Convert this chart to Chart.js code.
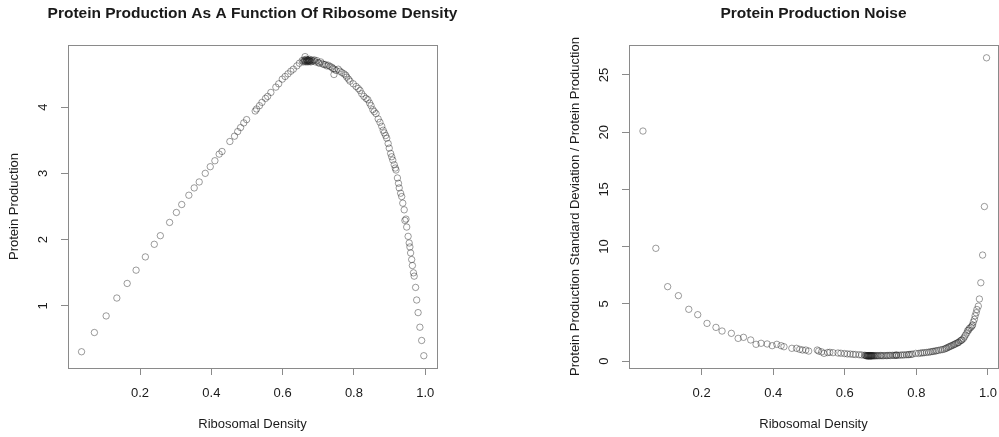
<!DOCTYPE html>
<html>
<head>
<meta charset="utf-8">
<script src="https://cdn.jsdelivr.net/npm/chart.js@4.4.1/dist/chart.umd.min.js"></script>
<style>
  html, body { margin: 0; padding: 0; background: #fff; }
  #wrap { position: relative; width: 999px; height: 437px; overflow: hidden; }
  canvas { position: absolute; top: 0; }
  #left { left: 0; }
  #right { left: 561px; }
</style>
</head>
<body>
<div id="wrap">
  <canvas id="left" width="561" height="437"></canvas>
  <canvas id="right" width="561" height="437"></canvas>
</div>
<script>
// --- data (ribosomal density sweep) ---
const density = [
  0.036,0.072,0.105,0.135,0.164,0.189,0.215,0.240,0.257,0.283,
  0.302,0.317,0.337,0.352,0.366,0.383,0.397,0.410,0.422,0.430,
  0.452,0.465,0.474,0.482,0.491,0.499,0.523,0.527,0.535,0.542,
  0.552,0.558,0.567,0.581,0.589,0.599,0.607,0.615,0.623,0.630,
  0.640,0.647,0.655,
  0.658,0.660,0.661,0.663,0.664,0.665,0.666,0.667,0.668,0.669,
  0.670,0.671,0.672,0.673,0.674,0.675,0.676,0.677,0.679,0.681,
  0.683,0.686,0.689,
  0.692,0.696,0.700,0.703,0.707,0.712,0.716,0.720,0.724,0.728,
  0.733,0.738,0.741,0.744,0.745,0.750,0.756,0.761,0.766,0.772,
  0.777,0.780,0.785,0.789,0.798,0.806,0.812,0.817,0.822,0.828,
  0.834,0.839,0.844,0.848,0.853,0.857,0.862,0.868,0.873,0.878,
  0.882,0.885,0.889,0.892,0.896,0.899,0.903,0.906,0.909,0.913,
  0.916,0.918,0.922,0.925,0.927,0.931,0.934,0.937,0.941,0.943,
  0.946,0.948,0.952,0.955,0.957,0.959,0.962,0.964,0.967,0.969,
  0.973,0.976,0.980,0.985,0.990,0.996
];

const production = [
  0.31,0.60,0.85,1.12,1.34,1.54,1.74,1.93,2.06,2.26,
  2.41,2.53,2.67,2.78,2.87,3.00,3.10,3.19,3.29,3.33,
  3.48,3.56,3.63,3.69,3.76,3.81,3.94,3.97,4.02,4.07,
  4.13,4.16,4.22,4.30,4.35,4.42,4.46,4.50,4.54,4.57,
  4.62,4.66,4.70,
  4.68,4.71,4.69,4.76,4.70,4.68,4.72,4.70,4.69,4.71,
  4.70,4.68,4.71,4.69,4.70,4.72,4.69,4.70,4.68,4.71,
  4.69,4.70,4.71,
  4.68,4.70,4.67,4.66,4.68,4.65,4.64,4.64,4.62,4.63,
  4.61,4.60,4.58,4.49,4.57,4.55,4.57,4.54,4.52,4.50,
  4.48,4.45,4.42,4.39,4.35,4.31,4.28,4.25,4.20,4.16,
  4.13,4.11,4.06,4.02,3.96,3.93,3.90,3.82,3.77,3.71,
  3.65,3.61,3.57,3.53,3.45,3.38,3.30,3.25,3.20,3.13,
  3.08,3.05,2.93,2.85,2.78,2.70,2.65,2.55,2.45,2.29,
  2.31,2.19,2.05,1.95,1.89,1.80,1.70,1.61,1.50,1.45,
  1.28,1.09,0.90,0.68,0.48,0.25
];

// std dev / mean of production
const noise = [
  20.1,9.85,6.50,5.71,4.52,4.05,3.29,2.94,2.62,2.42,
  1.98,2.07,1.84,1.46,1.55,1.49,1.34,1.46,1.34,1.25,
  1.11,1.11,1.02,0.96,0.96,0.87,0.96,0.87,0.80,0.67,
  0.74,0.76,0.73,0.70,0.68,0.65,0.62,0.61,0.58,0.57,
  0.55,0.53,0.50,
  0.48,0.47,0.46,0.45,0.46,0.47,0.45,0.46,0.47,0.46,
  0.45,0.47,0.46,0.46,0.45,0.46,0.47,0.46,0.47,0.46,
  0.45,0.47,0.46,
  0.47,0.46,0.48,0.47,0.46,0.48,0.47,0.48,0.49,0.48,
  0.50,0.49,0.50,0.52,0.51,0.50,0.52,0.53,0.53,0.55,
  0.55,0.57,0.58,0.60,0.67,0.66,0.70,0.71,0.73,0.75,
  0.77,0.80,0.83,0.85,0.87,0.91,0.93,0.98,1.00,1.04,
  1.10,1.14,1.20,1.25,1.30,1.35,1.40,1.45,1.50,1.56,
  1.60,1.63,1.75,1.80,1.84,1.95,2.10,2.27,2.45,2.65,
  2.70,2.85,2.94,3.05,3.15,3.40,3.64,3.95,4.22,4.50,
  4.80,5.42,6.84,9.26,13.5,26.5
];

const xTicks = [0.2, 0.4, 0.6, 0.8, 1.0];
const prodTicks = [1, 2, 3, 4];
const noiseTicks = [0, 5, 10, 15, 20, 25];

// --- look (R base graphics) ---
const FONT = '"Liberation Sans", Arial, Helvetica, sans-serif';
const frameColor = '#8a8a8a';
const textColor = '#1a1a1a';
const pointColor = 'rgba(30,30,30,0.55)';

// frame box, main title, and R-style rotated y tick labels
const rFrame = {
  id: 'rFrame',
  afterDraw(chart, args, opts) {
    const { ctx, chartArea: a, scales } = chart;
    ctx.save();
    ctx.strokeStyle = frameColor;
    ctx.lineWidth = 1;
    ctx.strokeRect(Math.round(a.left) + 0.5, Math.round(a.top) + 0.5,
                   Math.round(a.right - a.left), Math.round(a.bottom - a.top));

    ctx.fillStyle = textColor;
    ctx.textAlign = 'center';
    ctx.textBaseline = 'middle';
    ctx.font = 'bold 15.5px ' + FONT;
    ctx.fillText(opts.title, (a.left + a.right) / 2, 14);

    ctx.font = '13px ' + FONT;
    scales.y.ticks.forEach(t => {
      const y = scales.y.getPixelForValue(t.value);
      ctx.save();
      ctx.translate(43, y);
      ctx.rotate(-Math.PI / 2);
      ctx.fillText(String(t.value), 0, 0);
      ctx.restore();
    });
    ctx.restore();
  }
};

function makePanel(canvasId, title, yValues, yLabel, yTicks, xRange, yRange) {
  const pts = density.map((d, i) => ({ x: d, y: yValues[i] }));
  return new Chart(document.getElementById(canvasId), {
    type: 'scatter',
    data: {
      datasets: [{
        data: pts,
        pointStyle: 'circle',
        pointRadius: 3.2,
        borderWidth: 0.8,
        borderColor: pointColor,
        backgroundColor: 'rgba(0,0,0,0)'
      }]
    },
    options: {
      responsive: false,
      animation: false,
      events: [],
      layout: { padding: { top: 45, right: 124, bottom: 0, left: 0 } },
      plugins: {
        legend: { display: false },
        tooltip: { enabled: false },
        rFrame: { title: title }
      },
      scales: {
        x: {
          type: 'linear',
          min: xRange[0],
          max: xRange[1],
          afterBuildTicks: s => { s.ticks = xTicks.map(v => ({ value: v })); },
          afterFit: s => { s.height = 69; },
          border: { display: true, color: frameColor },
          grid: { drawOnChartArea: false, drawTicks: true, tickLength: 7, tickColor: frameColor, color: frameColor },
          ticks: {
            autoSkip: false, maxRotation: 0, padding: 11,
            color: textColor, font: { family: FONT, size: 13 },
            callback: v => v.toFixed(1)
          },
          title: {
            display: true, text: 'Ribosomal Density', color: textColor,
            font: { family: FONT, size: 13 }, padding: { top: 0, bottom: 5 }
          }
        },
        y: {
          type: 'linear',
          min: yRange[0],
          max: yRange[1],
          afterBuildTicks: s => { s.ticks = yTicks.map(v => ({ value: v })); },
          afterFit: s => { s.width = 68; },
          border: { display: true, color: frameColor },
          grid: { drawOnChartArea: false, drawTicks: true, tickLength: 7, tickColor: frameColor, color: frameColor },
          ticks: { display: false },
          title: {
            display: true, text: yLabel, color: textColor,
            font: { family: FONT, size: 13 }, padding: { top: 7, bottom: 0 }
          }
        }
      }
    },
    plugins: [rFrame]
  });
}

makePanel('left', 'Protein Production As A Function Of Ribosome Density',
  production, 'Protein Production', prodTicks, [-0.002, 1.033], [0.065, 4.935]);

makePanel('right', 'Protein Production Noise',
  noise, 'Protein Production Standard Deviation / Protein Production', noiseTicks,
  [-0.003, 1.028], [-0.61, 27.62]);
</script>
</body>
</html>
